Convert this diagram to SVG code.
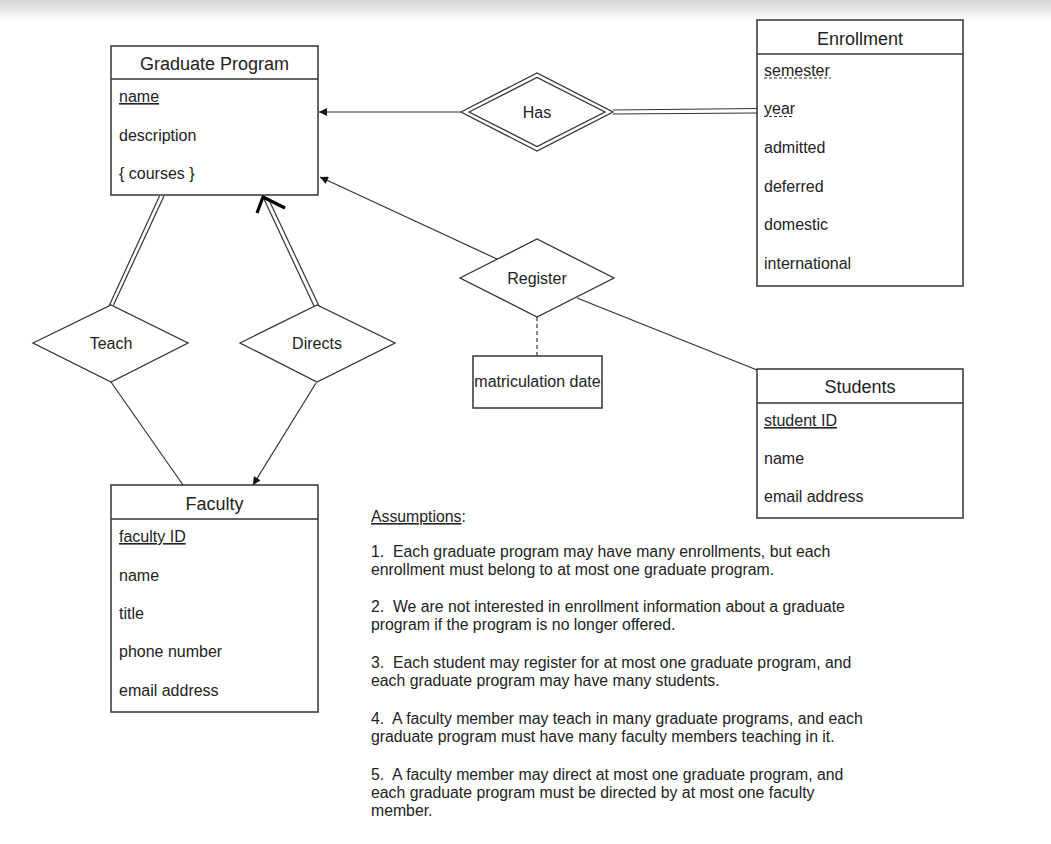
<svg xmlns="http://www.w3.org/2000/svg" width="1051" height="844" viewBox="0 0 1051 844">
<defs>
<linearGradient id="topShade" x1="0" y1="0" x2="0" y2="1">
<stop offset="0" stop-color="#d4d4d4"/>
<stop offset="1" stop-color="#ffffff"/>
</linearGradient>
<marker id="arr" viewBox="0 0 10 10" refX="10" refY="5" markerWidth="9" markerHeight="8" markerUnits="userSpaceOnUse" orient="auto">
<path d="M0,0 L10,5 L0,10 Z" fill="#111"/>
</marker>
</defs>
<style>
text{font-family:"Liberation Sans",Arial,sans-serif;fill:#222}
.hd{font-size:18px;text-anchor:middle}
.at{font-size:16px}
.lb{font-size:16px;text-anchor:middle}
.box{fill:#fff;stroke:#333;stroke-width:1.5}
.sep{stroke:#333;stroke-width:1.5}
.dia{fill:#fff;stroke:#333;stroke-width:1.3}
.ln{stroke:#333;stroke-width:1.2;fill:none}
.ul{text-decoration:underline}
.as{font-size:15.8px;white-space:pre}
</style>
<rect x="0" y="0" width="1051" height="22" fill="url(#topShade)"/>

<g id="connectors">
<line class="ln" x1="461" y1="112" x2="319" y2="112" marker-end="url(#arr)"/>
<line class="ln" x1="613" y1="110" x2="757" y2="108.5"/>
<line class="ln" x1="613" y1="114" x2="757" y2="113"/>
<line class="ln" x1="497" y1="259" x2="320" y2="177" marker-end="url(#arr)"/>
<line class="ln" x1="577" y1="298" x2="757" y2="370"/>
<line class="ln" x1="537" y1="317" x2="537" y2="356" stroke-dasharray="4,3"/>
<line class="ln" x1="159.5" y1="196" x2="109.5" y2="305"/>
<line class="ln" x1="164" y1="196" x2="113.5" y2="305"/>
<line class="ln" x1="264" y1="199" x2="314" y2="306"/>
<line class="ln" x1="268" y1="198" x2="319" y2="306"/>
<polyline points="257,213 263,197 285,208" fill="none" stroke="#000" stroke-width="3.2" stroke-linejoin="miter"/>
<line class="ln" x1="111" y1="382" x2="183" y2="485"/>
<line class="ln" x1="316" y1="383" x2="253" y2="485" marker-end="url(#arr)"/>
</g>

<g id="graduate-program">
<rect class="box" x="111" y="46" width="207" height="149"/>
<line class="sep" x1="111" y1="79" x2="318" y2="79"/>
<text class="hd" x="214.5" y="70">Graduate Program</text>
<text class="at ul" x="119" y="102">name</text>
<text class="at" x="119" y="140.5">description</text>
<text class="at" x="119" y="179">{ courses }</text>
</g>

<g id="enrollment">
<rect class="box" x="757" y="20" width="206" height="266"/>
<line class="sep" x1="757" y1="54" x2="963" y2="54"/>
<text class="hd" x="860" y="44.5">Enrollment</text>
<text class="at" x="764" y="75.5">semester</text>
<line x1="764" y1="78" x2="831" y2="78" stroke="#333" stroke-width="1" stroke-dasharray="3,2"/>
<text class="at" x="764" y="114">year</text>
<line x1="764" y1="116.5" x2="794" y2="116.5" stroke="#333" stroke-width="1" stroke-dasharray="3,2"/>
<text class="at" x="764" y="153">admitted</text>
<text class="at" x="764" y="191.5">deferred</text>
<text class="at" x="764" y="230">domestic</text>
<text class="at" x="764" y="268.5">international</text>
</g>

<g id="has">
<polygon class="dia" points="461,112 537,73 613,112 537,151"/>
<polygon class="dia" points="469,112 537,77.5 605,112 537,146.5"/>
<text class="lb" x="537" y="117.5">Has</text>
</g>

<g id="register">
<polygon class="dia" points="460,278 537,239 614,278 537,317"/>
<text class="lb" x="537" y="284">Register</text>
</g>

<g id="matriculation-date">
<rect class="box" x="473" y="356" width="129" height="52"/>
<text class="lb" x="537.5" y="387">matriculation date</text>
</g>

<g id="teach">
<polygon class="dia" points="33,343 111,305 188,343 111,382"/>
<text class="lb" x="111" y="348.5">Teach</text>
</g>

<g id="directs">
<polygon class="dia" points="240,343 317,305 395,343 317,382"/>
<text class="lb" x="317" y="348.5">Directs</text>
</g>

<g id="students">
<rect class="box" x="757" y="369" width="206" height="149"/>
<line class="sep" x1="757" y1="403" x2="963" y2="403"/>
<text class="hd" x="860" y="393">Students</text>
<text class="at ul" x="764" y="426">student ID</text>
<text class="at" x="764" y="464">name</text>
<text class="at" x="764" y="502">email address</text>
</g>

<g id="faculty">
<rect class="box" x="111" y="485" width="207" height="227"/>
<line class="sep" x1="111" y1="519" x2="318" y2="519"/>
<text class="hd" x="214.5" y="510">Faculty</text>
<text class="at ul" x="119" y="542">faculty ID</text>
<text class="at" x="119" y="580.5">name</text>
<text class="at" x="119" y="619">title</text>
<text class="at" x="119" y="657">phone number</text>
<text class="at" x="119" y="695.5">email address</text>
</g>

<g id="assumptions">
<text class="as" x="371" y="522"><tspan class="ul">Assumptions</tspan>:</text>
<text class="as" x="371" y="557">1.  Each graduate program may have many enrollments, but each</text>
<text class="as" x="371" y="575">enrollment must belong to at most one graduate program.</text>
<text class="as" x="371" y="612">2.  We are not interested in enrollment information about a graduate</text>
<text class="as" x="371" y="630">program if the program is no longer offered.</text>
<text class="as" x="371" y="668">3.  Each student may register for at most one graduate program, and</text>
<text class="as" x="371" y="686">each graduate program may have many students.</text>
<text class="as" x="371" y="724">4.  A faculty member may teach in many graduate programs, and each</text>
<text class="as" x="371" y="742">graduate program must have many faculty members teaching in it.</text>
<text class="as" x="371" y="780">5.  A faculty member may direct at most one graduate program, and</text>
<text class="as" x="371" y="798">each graduate program must be directed by at most one faculty</text>
<text class="as" x="371" y="816">member.</text>
</g>
</svg>
